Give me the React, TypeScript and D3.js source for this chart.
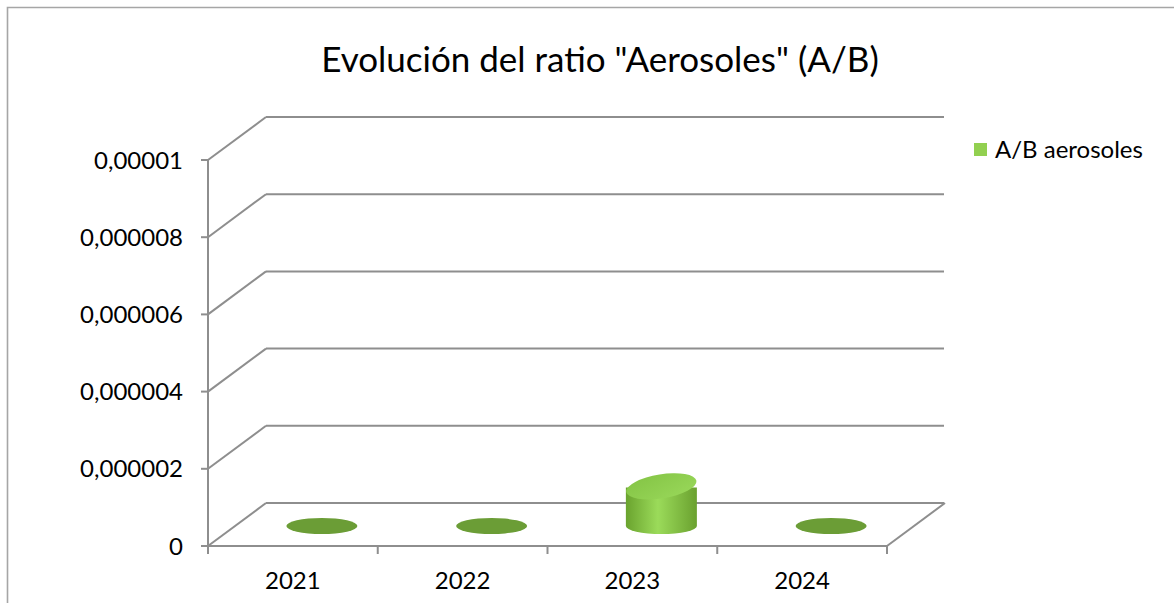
import React from "react";
import * as d3 from "d3";

const categories = ["2021", "2022", "2023", "2024"];
const values = [0, 0, 0.000001, 0];
const yTicks = [0, 0.000002, 0.000004, 0.000006, 0.000008, 0.00001];
const yTickLabels = ["0", "0,000002", "0,000004", "0,000006", "0,000008", "0,00001"];
const seriesName = "A/B aerosoles";
const title = 'Evolución del ratio "Aerosoles" (A/B)';

const W = 1174;
const H = 603;
const DX = 58;
const DY = -43;
const FONT = "Lato, 'Liberation Sans', sans-serif";
const GRID = "#8e8e8e";

export default function App() {
  const y = d3.scaleLinear().domain([0, 0.00001]).range([546, 160]);
  const x = d3.scaleBand<string>().domain(categories).range([208, 887]);
  const x0 = 208;
  const x1 = 887;
  const y0 = y(0);

  return (
    <svg width={W} height={H} style={{ position: "absolute", left: 0, top: 0 }}>
      <defs>
        <linearGradient id="cyl" x1="0" x2="1" y1="0" y2="0">
          <stop offset="0%" stopColor="#6aa32e" />
          <stop offset="45%" stopColor="#9bdb5a" />
          <stop offset="100%" stopColor="#6aa12f" />
        </linearGradient>
        <linearGradient id="cyltop" x1="0" x2="1" y1="0" y2="1">
          <stop offset="0%" stopColor="#84c445" />
          <stop offset="100%" stopColor="#99d85a" />
        </linearGradient>
      </defs>
      <rect x={0} y={0} width={W} height={H} fill="#fff" />
      <path d={`M7.5,${H + 5} V7.5 H${W + 5}`} fill="none" stroke="#a6a6a6" strokeWidth={1.6} />

      <text x={600} y={72} textAnchor="middle" fontFamily={FONT} fontSize={35} fill="#000">
        {title}
      </text>

      {yTicks.map((t, i) => (
        <g key={"g" + i}>
          <line x1={x0 + DX} x2={944} y1={y(t) + DY} y2={y(t) + DY} stroke={GRID} strokeWidth={2} />
          <line x1={x0} x2={x0 + DX} y1={y(t)} y2={y(t) + DY} stroke={GRID} strokeWidth={2} />
          <line x1={x0 - 7} x2={x0} y1={y(t)} y2={y(t)} stroke={GRID} strokeWidth={2} />
          <text x={183} y={y(t) + 8.5} textAnchor="end" fontFamily={FONT} fontSize={24} fill="#000">
            {yTickLabels[i]}
          </text>
        </g>
      ))}
      <line x1={x0} x2={x1} y1={y0} y2={y0} stroke={GRID} strokeWidth={2} />
      <line x1={x1} x2={x1 + DX} y1={y0} y2={y0 + DY} stroke={GRID} strokeWidth={2} />
      <line x1={x0} x2={x0} y1={y(0.00001)} y2={y0} stroke={GRID} strokeWidth={2} />
      {[...categories.map((c) => x(c) as number), x1].map((v, i) => (
        <line key={"t" + i} x1={v} x2={v} y1={y0} y2={y0 + 8} stroke={GRID} strokeWidth={2} />
      ))}
      {categories.map((c) => (
        <text
          key={"c" + c}
          x={(x(c) as number) + x.bandwidth() / 2}
          y={589}
          textAnchor="middle"
          fontFamily={FONT}
          fontSize={24}
          fill="#000"
        >
          {c}
        </text>
      ))}

      {categories.map((c, i) => {
        const cx = (x(c) as number) + x.bandwidth() / 2 + DX / 2;
        const baseY = y0 + DY / 2 + 1.5;
        const rx = 35.5;
        const v = values[i];
        if (v === 0) {
          return <ellipse key={"b" + c} cx={cx} cy={baseY} rx={rx} ry={8} fill="#6b9d36" />;
        }
        const topY = baseY - (y0 - y(v));
        return (
          <g key={"b" + c}>
            <path
              d={`M${cx - rx},${topY} V${baseY} A${rx},8 0 0 0 ${cx + rx},${baseY} V${topY} Z`}
              fill="url(#cyl)"
            />
            <ellipse
              cx={cx}
              cy={topY - 1}
              rx={rx}
              ry={12}
              transform={`rotate(-9 ${cx} ${topY - 1})`}
              fill="url(#cyltop)"
            />
          </g>
        );
      })}

      <rect x={974} y={143} width={13} height={13} fill="#92d050" />
      <text x={995} y={158} fontFamily={FONT} fontSize={24} fill="#000">
        {seriesName}
      </text>
    </svg>
  );
}
